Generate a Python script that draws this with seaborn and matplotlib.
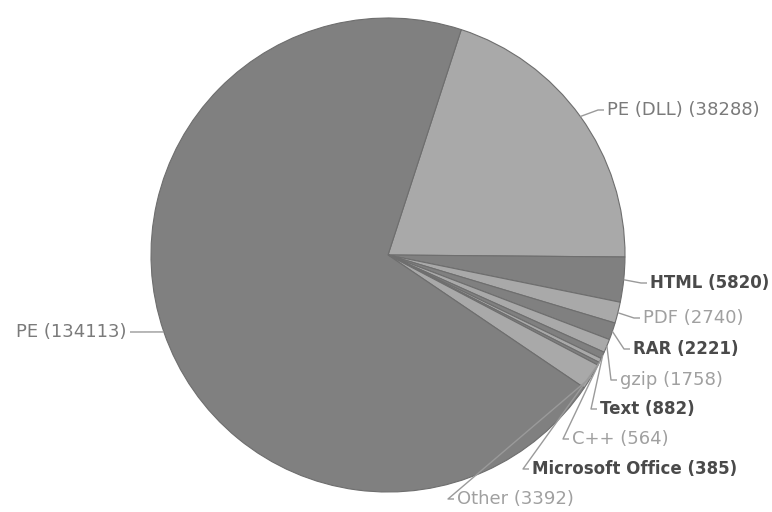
import numpy as np
import matplotlib
matplotlib.use("Agg")
import matplotlib.pyplot as plt
import seaborn as sns

# File types seen in the sample set (counts)
labels = ["PE (DLL)", "HTML", "PDF", "RAR", "gzip", "Text", "C++",
          "Microsoft Office", "Other", "PE"]
counts = [38288, 5820, 2740, 2221, 1758, 882, 564, 385, 3392, 134113]

sns.set_theme(style="white")
plt.rcParams["font.family"] = ["DejaVu Sans"]

W, H = 772, 512
fig = plt.figure(figsize=(W / 100, H / 100), dpi=100)
ax = fig.add_axes([0, 0, 1, 1])

dark, light = "#808080", "#a9a9a9"
slice_colors = [light, dark, light, dark, light, dark, light, dark, light, dark]

cx, cy, r = 388, H - 255, 237
wedges, _ = ax.pie(counts, colors=slice_colors, startangle=72, counterclock=False,
                   center=(cx, cy), radius=r,
                   wedgeprops=dict(edgecolor="#6e6e6e", linewidth=0.8))
ax.set_xlim(0, W)
ax.set_ylim(0, H)
ax.set_aspect("equal")
ax.axis("off")

# label layout: (x, y) in pixels from the top-left, side of the pie
label_pos = [(607, 110), (650, 283), (643, 318), (633, 349), (620, 380),
             (600, 409), (572, 439), (532, 469), (457, 499), (127, 332)]
label_style = ["mid", "dark", "light", "dark", "light", "dark", "light",
               "dark", "light", "mid"]
styles = {"dark": ("#4a4a4a", "bold", 12),
          "light": ("#a0a0a0", "normal", 13),
          "mid": ("#7a7a7a", "normal", 13)}

for w, name, n, (lx, ly), st in zip(wedges, labels, counts, label_pos, label_style):
    mid = np.deg2rad((w.theta1 + w.theta2) / 2)
    ex, ey = cx + r * np.cos(mid), cy + r * np.sin(mid)
    ty = H - ly
    if lx > cx:
        elbow, stub, ha = (lx - 9, ty), (lx - 3, ty), "left"
    else:
        elbow, stub, ha = (lx + 9, ty), (lx + 3, ty), "right"
    ax.plot([ex, elbow[0], stub[0]], [ey, elbow[1], stub[1]],
            color="#9a9a9a", lw=1.0, solid_capstyle="butt")
    color, weight, size = styles[st]
    ax.text(lx, ty, f"{name} ({n})", ha=ha, va="center", fontsize=size,
            color=color, fontweight=weight)

fig.savefig("out.png", dpi=100, facecolor="white")
